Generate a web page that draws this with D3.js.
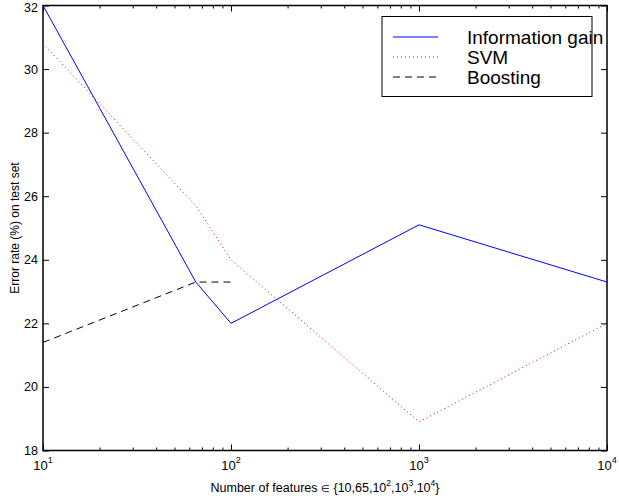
<!DOCTYPE html>
<html>
<head>
<meta charset="utf-8">
<script src="https://cdn.jsdelivr.net/npm/d3@7"></script>
<style>
  body { margin: 0; background: #fff; }
  svg { font-family: "Liberation Sans", Arial, Helvetica, sans-serif; }
</style>
</head>
<body>
<div id="chart"></div>
<script>
// Values
const features = [10, 65, 100, 1000, 10000]
const infoGain = [32.0, 23.3, 22.0, 25.1, 23.3]
const svmError = [30.8, 25.7, 24.0, 18.9, 22.0]
const boostFeatures = [10, 65, 100]
const boostError = [21.4, 23.3, 23.3]

const yTicks = [18, 20, 22, 24, 26, 28, 30, 32]
const xMajor = [10, 100, 1000, 10000]
const xExponents = ["1", "2", "3", "4"]
const seriesNames = ["Information gain", "SVM", "Boosting"]

const width = 619, height = 502
const plot = {left: 43, right: 607, top: 5.5, bottom: 450.5}

const svg = d3.select("#chart")
  .append("svg")
  .attr("width", width)
  .attr("height", height)

const x = d3.scaleLog()
  .domain([10, 10000])
  .range([plot.left, plot.right])

const y = d3.scaleLinear()
  .domain([18, 32])
  .range([plot.bottom, plot.top])

// minor log ticks 2..9 in every decade
const xMinor = []
xMajor.slice(0, -1).forEach(d => {
  for (let k = 2; k < 10; k++) xMinor.push(d * k)
})

// ----------------- //
// Axes (ticks point inward, on all four sides)
// ----------------- //
function addAxis(axis, transform) {
  const g = svg.append("g").attr("transform", transform).call(axis)
  g.select(".domain").remove()
  g.selectAll("line").attr("stroke", "#000")
  g.selectAll("text").remove()
  return g
}

addAxis(d3.axisBottom(x).tickValues(xMajor).tickSize(-6), `translate(0,${plot.bottom})`)
addAxis(d3.axisBottom(x).tickValues(xMinor).tickSize(-3), `translate(0,${plot.bottom})`)
addAxis(d3.axisTop(x).tickValues(xMajor).tickSize(-6), `translate(0,${plot.top})`)
addAxis(d3.axisTop(x).tickValues(xMinor).tickSize(-3), `translate(0,${plot.top})`)
addAxis(d3.axisLeft(y).tickValues(yTicks).tickSize(-6), `translate(${plot.left},0)`)
addAxis(d3.axisRight(y).tickValues(yTicks).tickSize(-6), `translate(${plot.right},0)`)

// box
svg.append("rect")
  .attr("x", plot.left)
  .attr("y", plot.top)
  .attr("width", plot.right - plot.left)
  .attr("height", plot.bottom - plot.top)
  .attr("fill", "none")
  .attr("stroke", "#000")
  .attr("stroke-width", 1.5)

// y tick labels (top one kept inside the page)
svg.append("g")
  .selectAll("text")
  .data(yTicks)
  .join("text")
    .attr("x", plot.left - 5)
    .attr("y", d => Math.max(y(d) + 4.5, 11.5))
    .attr("text-anchor", "end")
    .attr("font-size", 12.5)
    .text(d => d)

// x tick labels: 10 with exponent
const xl = svg.append("g")
  .selectAll("text")
  .data(xMajor)
  .join("text")
    .attr("x", d => x(d))
    .attr("y", 470)
    .attr("text-anchor", "middle")
    .attr("font-size", 13)
xl.append("tspan").text("10")
xl.append("tspan")
  .attr("dy", -7)
  .attr("font-size", 9)
  .text((d, i) => xExponents[i])

// axis titles
const xTitle = svg.append("text")
  .attr("x", (plot.left + plot.right) / 2)
  .attr("y", 492)
  .attr("text-anchor", "middle")
  .attr("font-size", 12.5)
xTitle.append("tspan").text("Number of features ")
xTitle.append("tspan").attr("font-size", 10).text("\u2208")
xTitle.append("tspan").text(" {10,65,10")
xTitle.append("tspan").attr("dy", -6).attr("font-size", 8.5).text("2")
xTitle.append("tspan").attr("dy", 6).text(",10")
xTitle.append("tspan").attr("dy", -6).attr("font-size", 8.5).text("3")
xTitle.append("tspan").attr("dy", 6).text(",10")
xTitle.append("tspan").attr("dy", -6).attr("font-size", 8.5).text("4")
xTitle.append("tspan").attr("dy", 6).text("}")

svg.append("text")
  .attr("transform", `translate(18.5,${(plot.top + plot.bottom) / 2}) rotate(-90)`)
  .attr("text-anchor", "middle")
  .attr("font-size", 12)
  .text("Error rate (%) on test set")

// ----------------- //
// Lines
// ----------------- //
const line = d3.line()
  .x(d => x(d[0]))
  .y(d => y(d[1]))

const series = [
  {values: d3.zip(features, infoGain), color: "#0000ff", dash: null},
  {values: d3.zip(features, svmError), color: "#ff0000", dash: "1,3"},
  {values: d3.zip(boostFeatures, boostError), color: "#000000", dash: "7,5"}
]

svg.append("g")
  .selectAll("path")
  .data(series)
  .join("path")
    .attr("d", d => line(d.values))
    .attr("fill", "none")
    .attr("stroke", d => d.color)
    .attr("stroke-width", 1)
    .attr("stroke-dasharray", d => d.dash)

// ----------------- //
// Legend
// ----------------- //
const legend = svg.append("g")

legend.append("rect")
  .attr("x", 382)
  .attr("y", 16.5)
  .attr("width", 210)
  .attr("height", 80)
  .attr("fill", "#fff")
  .attr("stroke", "#000")
  .attr("stroke-width", 1)

const entry = legend.selectAll("g.entry")
  .data(series)
  .join("g")
    .attr("class", "entry")
    .attr("transform", (d, i) => `translate(0,${37 + i * 20})`)

entry.append("line")
  .attr("x1", 393)
  .attr("x2", 438)
  .attr("stroke", d => d.color)
  .attr("stroke-width", 1)
  .attr("stroke-dasharray", d => d.dash)

entry.append("text")
  .attr("x", 467)
  .attr("y", 6.5)
  .attr("font-size", 19)
  .text((d, i) => seriesNames[i])
</script>
</body>
</html>
